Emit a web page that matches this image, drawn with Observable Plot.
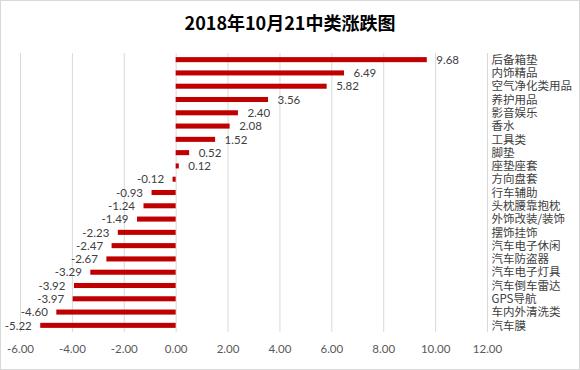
<!DOCTYPE html>
<html><head><meta charset="utf-8">
<script src="https://cdn.jsdelivr.net/npm/d3@7"></script>
<script src="https://cdn.jsdelivr.net/npm/@observablehq/plot@0.6"></script>
<style>
html,body{margin:0;padding:0;background:#fff;}
#wrap{position:relative;width:580px;height:370px;overflow:hidden;background:#fff;}
#frame{position:absolute;left:0;top:0;width:580px;height:370px;box-sizing:border-box;border:1px solid #d9d9d9;pointer-events:none;}
#title{height:45px;line-height:45px;text-align:center;font-family:"Noto Sans CJK SC",sans-serif;font-weight:700;font-size:18px;color:#000;}
#chart svg{display:block;}
</style></head><body>
<div id="wrap"><div id="title">2018年10月21中类涨跌图</div><div id="chart"></div><div id="frame"></div></div>
<script>
const categories = ["后备箱垫","内饰精品","空气净化类用品","养护用品","影音娱乐","香水","工具类","脚垫","座垫座套","方向盘套","行车辅助","头枕腰靠抱枕","外饰改装/装饰","摆饰挂饰","汽车电子休闲","汽车防盗器","汽车电子灯具","汽车倒车雷达","GPS导航","车内外清洗类","汽车膜"];
const values = [9.68, 6.49, 5.82, 3.56, 2.40, 2.08, 1.52, 0.52, 0.12, -0.12, -0.93, -1.24, -1.49, -2.23, -2.47, -2.67, -3.29, -3.92, -3.97, -4.60, -5.22];
const xTicks = [-6, -4, -2, 0, 2, 4, 6, 8, 10, 12];

const data = categories.map((c, i) => ({category: c, value: values[i]}));
const fmt = d => d.toFixed(2);

const chart = Plot.plot({
  width: 580, height: 325,
  marginTop: 8, marginBottom: 38, marginLeft: 20, marginRight: 93,
  style: {fontFamily: "Lato, 'Noto Sans CJK SC', sans-serif", fontSize: "11.5px", color: "#595959", background: "transparent"},
  x: {domain: [-6, 12]},
  y: {domain: categories, paddingInner: 0.62, paddingOuter: 0.31, round: false},
  marks: [
    Plot.gridX(xTicks, {stroke: "#d9d9d9", strokeOpacity: 1}),
    Plot.axisX({ticks: xTicks, tickFormat: fmt, tickSize: 0, tickPadding: 12, label: null, fill: "#595959"}),
    Plot.axisY({anchor: "right", tickSize: 0, tickPadding: 4, label: null, fill: "#404040", fontFamily: "'Noto Sans CJK SC', sans-serif"}),
    Plot.barX(data, {x: "value", y: "category", fill: "#C00000"}),
    Plot.text(data, {filter: d => d.value >= 0, x: "value", y: "category", text: d => fmt(d.value), textAnchor: "start", dx: 9, fill: "#404040"}),
    Plot.text(data, {filter: d => d.value < 0, x: "value", y: "category", text: d => fmt(d.value), textAnchor: "end", dx: -9, fill: "#404040"})
  ]
});
document.getElementById("chart").appendChild(chart);
</script>
</body></html>
